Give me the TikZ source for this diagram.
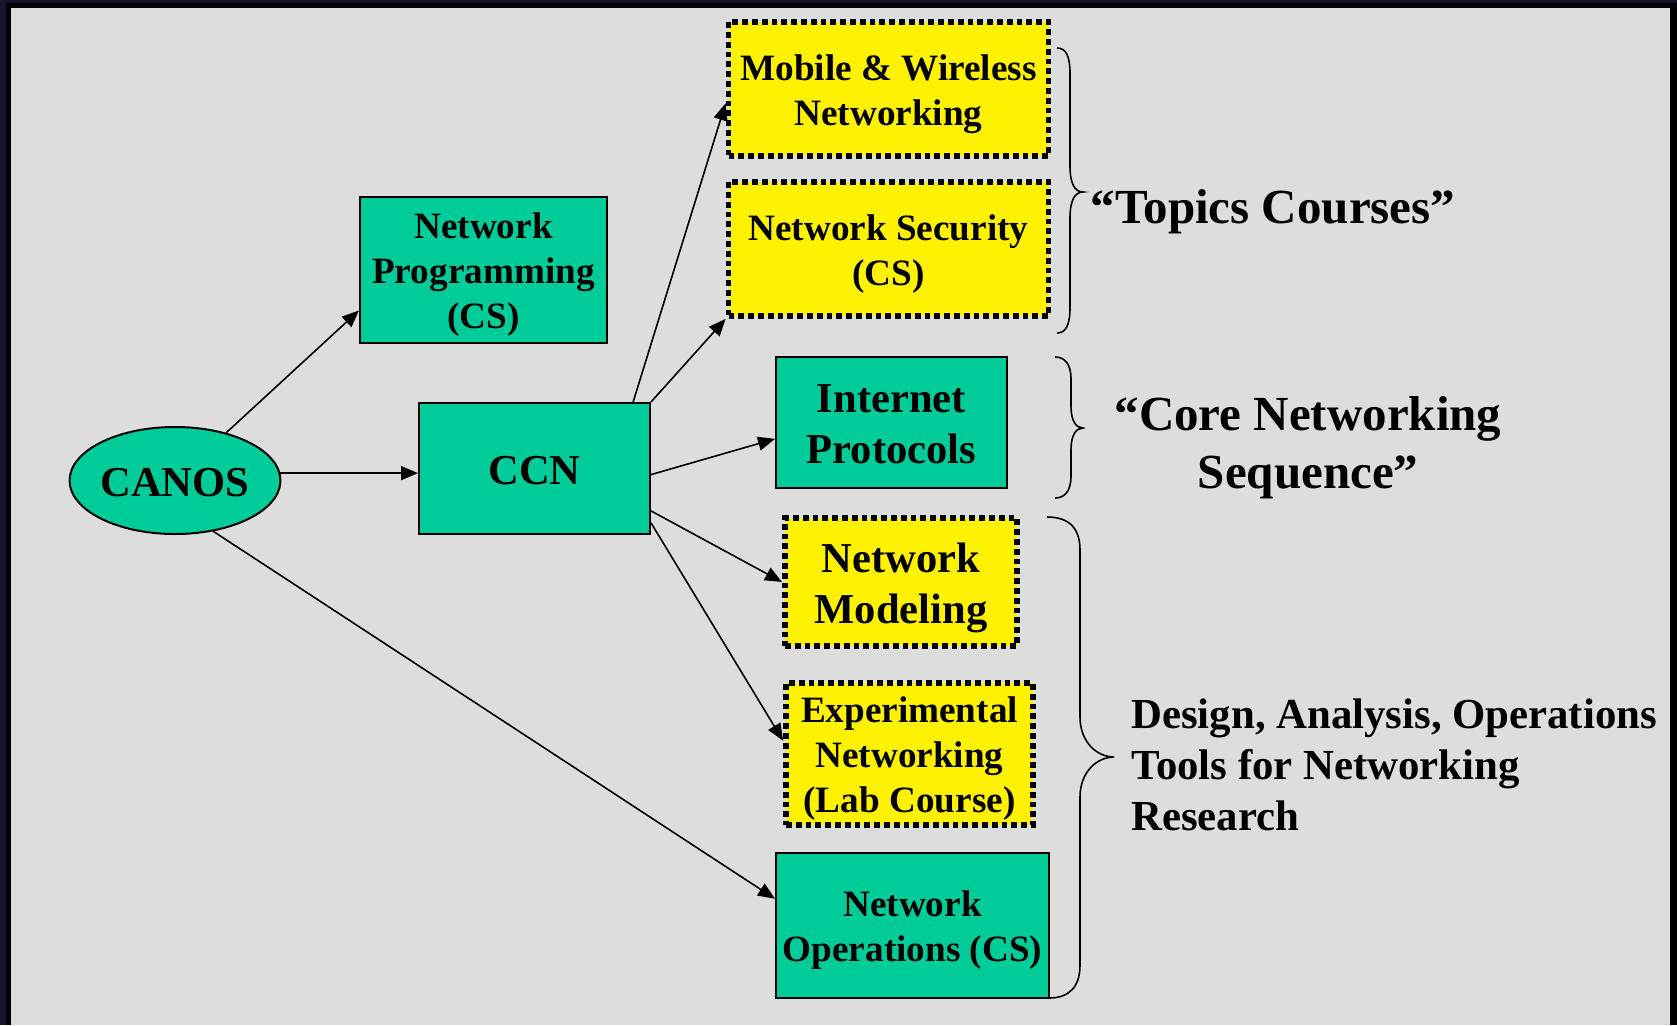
\documentclass[tikz,border=0pt]{standalone}
\usepackage{fontspec}
\setmainfont{Liberation Serif}
\usetikzlibrary{arrows.meta, shapes.geometric}
\definecolor{coursegreen}{HTML}{00CC99}
\definecolor{slidegray}{HTML}{DDDDDD}
\definecolor{slidenavy}{HTML}{17142F}
\newcommand\ls{\rule[-0.216em]{0pt}{1.17em}}
\tikzset{
  greenbox/.style = {draw, fill=coursegreen, line width=1pt, inner sep=0pt, align=center,
    font=\bfseries\fontsize{18.6}{22.5}\selectfont},
  topicbox/.style = {draw, fill=yellow, line width=2.9pt, dash pattern=on 2.9pt off 2pt,
    inner sep=0pt, align=center, font=\bfseries\fontsize{18.6}{22.5}\selectfont},
  bigtext/.style = {font=\bfseries\fontsize{21.3}{25.5}\selectfont},
  link/.style = {-{Triangle[length=8.5pt, width=7pt]}, line width=0.8pt},
  bracket/.style = {line width=0.8pt},
}

\begin{document}
\begin{tikzpicture}[x=0.5pt, y=-0.5pt]
    \useasboundingbox (0,0) rectangle (1677,1025);
    \fill[slidenavy] (0,0) rectangle (1677,1025);
    \fill[black] (6,3) rectangle (1677,1025);
    \fill[slidegray] (11,8) rectangle (1670,1025);

    \node (canos) at (175,480.5) [greenbox, ellipse, bigtext, minimum width=103pt, minimum height=53.5pt] {\ls CANOS};
    \node (prog) at (483.5,270) [greenbox, minimum width=123.5pt, minimum height=73pt] {\ls Network\\Programming\\(CS)\ls};
    \node (ccn) at (534.5,468.5) [greenbox, bigtext, minimum width=115.5pt, minimum height=65.5pt] {\ls CCN};
    \node (mobile) at (888.5,89) [topicbox, minimum width=160pt, minimum height=67pt] {\ls Mobile \& Wireless\\Networking\ls};
    \node (security) at (888.5,249) [topicbox, minimum width=160pt, minimum height=67pt] {\ls Network Security\\(CS)\ls};
    \node (internet) at (891.5,422.5) [greenbox, bigtext, minimum width=115.5pt, minimum height=65.5pt] {\ls Internet\\Protocols\ls};
    \node (modeling) at (901,582) [topicbox, bigtext, minimum width=116pt, minimum height=64pt] {\ls Network\\Modeling\ls};
    \node (exper) at (909.5,754) [topicbox, minimum width=123.5pt, minimum height=71pt] {\ls Experimental\\Networking\\(Lab Course)\ls};
    \node (ops) at (912.5,925.5) [greenbox, minimum width=136.5pt, minimum height=72.5pt] {\ls Network\\Operations (CS)\ls};

    \draw[link] (canos.43) -- (prog.198);
    \draw[link] (canos.4) -- (canos.4 -| ccn.west);
    \draw[link] (canos.-53) -- (ops.169);
    \draw[link] (ccn.34) -- (mobile.185);
    \draw[link] (ccn.north east) -- (security.south west);
    \draw[link] (ccn.-3) -- (internet.188);
    \draw[link] (ccn.-20) -- (modeling.west);
    \draw[link] (ccn.-25) -- (exper.174);

    \draw[bracket] (1057,48) .. controls (1066,48) and (1070,56) .. (1070,74) -- (1070,166)
        .. controls (1070,184) and (1075,192) .. (1083,192) .. controls (1075,192) and (1070,200) .. (1070,218)
        -- (1070,307) .. controls (1070,325) and (1066,333) .. (1057,333);
    \draw[bracket] (1055,357) .. controls (1064,357) and (1071,363) .. (1071,379) -- (1071,406)
        .. controls (1071,421) and (1076,428) .. (1083,428) .. controls (1076,428) and (1071,435) .. (1071,450)
        -- (1071,476) .. controls (1071,492) and (1064,498) .. (1055,498);
    \draw[bracket] (1047,517) .. controls (1069,517) and (1080,528) .. (1080,550) -- (1080,717)
        .. controls (1080,742) and (1097,757) .. (1114,757) .. controls (1097,757) and (1080,772) .. (1080,797)
        -- (1080,965) .. controls (1080,987) and (1069,998) .. (1049,998);

    \node (topics) at (1273,223) [anchor=base, font=\bfseries\fontsize{24.5}{29}\selectfont] {“Topics Courses”};
    \node (core) at (1308,396) [anchor=north, inner sep=0pt, align=center, font=\bfseries\fontsize{24.5}{29}\selectfont] {“Core Networking\\Sequence”};
    \node (tools) at (1131,698) [anchor=north west, inner sep=0pt, align=left, font=\bfseries\fontsize{21.4}{25.5}\selectfont] {Design, Analysis, Operations\\Tools for Networking\\Research};
\end{tikzpicture}
\end{document}
